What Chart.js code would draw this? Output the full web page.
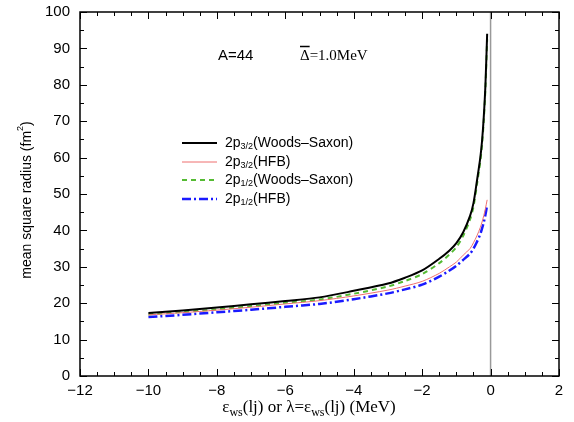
<!DOCTYPE html>
<html>
<head>
<meta charset="utf-8">
<script src="https://cdn.jsdelivr.net/npm/chart.js@4.4.0/dist/chart.umd.min.js"></script>
<style>
  html, body { margin: 0; padding: 0; background: #fff; }
  #wrap { width: 574px; height: 422px; }
</style>
</head>
<body>
<div id="wrap"><canvas id="radiusChart" width="574" height="422"></canvas></div>
<script>
// single-particle energy (MeV)
var energies = [-10, -9, -8, -7, -6, -5, -4, -3, -2.5, -2, -1.5, -1.2, -1, -0.8, -0.6, -0.5, -0.4, -0.3, -0.25, -0.2, -0.15, -0.1];

// mean square radius (fm^2)
var p32WoodsSaxon = [17.3, 18.0, 18.8, 19.7, 20.6, 21.6, 23.4, 25.4, 27.0, 29.0, 32.2, 34.5, 36.5, 39.5, 44.0, 47.5, 53.5, 60.0, 64.5, 71.0, 80.0, 94.0];
var p32HFB = [16.8, 17.4, 18.1, 18.9, 19.8, 20.7, 22.0, 23.6, 24.7, 26.0, 28.2, 30.0, 31.3, 33.2, 35.0, 36.6, 38.5, 40.8, 42.3, 44.0, 46.0, 48.4];
var p12WoodsSaxon = [16.9, 17.6, 18.3, 19.2, 20.1, 21.0, 22.6, 24.6, 26.1, 28.0, 31.0, 33.4, 35.4, 38.5, 43.0, 46.5, 52.5, 59.0, 63.5, 70.0, 79.0, 92.5];
var p12HFB = [16.2, 16.8, 17.5, 18.2, 19.0, 19.8, 21.1, 22.7, 23.8, 25.1, 27.3, 29.0, 30.3, 31.9, 33.6, 35.0, 36.8, 39.0, 40.5, 42.2, 44.3, 47.0];

var legendLabels = [
    ['2p', '3/2', '(Woods\u2013Saxon)'],
    ['2p', '3/2', '(HFB)'],
    ['2p', '1/2', '(Woods\u2013Saxon)'],
    ['2p', '1/2', '(HFB)']
];

function pts(ys) {
    return energies.map(function (e, i) { return { x: e, y: ys[i] }; });
}

var sans = 'Liberation Sans, Arial, Helvetica, sans-serif';
var serif = 'Liberation Serif, Times New Roman, serif';

var series = [
    { data: p32WoodsSaxon, color: '#000000', width: 2, dash: [] },
    { data: p32HFB, color: '#ee6f6f', width: 1, dash: [] },
    { data: p12WoodsSaxon, color: '#55bb33', width: 2, dash: [5, 4] },
    { data: p12HFB, color: '#1a1aff', width: 2.5, dash: [9, 3, 2, 3] }
];

// frame, inward ticks, the zero line and the text labels
var decorPlugin = {
    id: 'decor',
    beforeDatasetsDraw: function (chart) {
        var c = chart.ctx, a = chart.chartArea, xs = chart.scales.x;
        var x0 = xs.getPixelForValue(0);
        c.save();
        c.strokeStyle = '#999999';
        c.lineWidth = 1.5;
        c.beginPath();
        c.moveTo(x0, a.top);
        c.lineTo(x0, a.bottom);
        c.stroke();
        c.restore();
    },
    afterDraw: function (chart) {
        var c = chart.ctx, a = chart.chartArea;
        var xs = chart.scales.x, ys = chart.scales.y;
        c.save();
        c.strokeStyle = '#000';
        c.lineWidth = 1.5;
        c.strokeRect(a.left, a.top, a.right - a.left, a.bottom - a.top);

        c.lineWidth = 1;
        c.beginPath();
        for (var v = -12; v <= 2.001; v += 0.5) {
            var px = Math.round(xs.getPixelForValue(v)) + 0.5;
            var len = (Math.abs(v % 2) < 0.01) ? 7 : 4;
            c.moveTo(px, a.bottom); c.lineTo(px, a.bottom - len);
            c.moveTo(px, a.top); c.lineTo(px, a.top + len);
        }
        for (var w = 0; w <= 100; w += 5) {
            var py = Math.round(ys.getPixelForValue(w)) + 0.5;
            var l2 = (w % 10 === 0) ? 7 : 4;
            c.moveTo(a.left, py); c.lineTo(a.left + l2, py);
            c.moveTo(a.right, py); c.lineTo(a.right - l2, py);
        }
        c.stroke();

        // y axis title
        c.fillStyle = '#000';
        c.save();
        c.translate(27, (a.top + a.bottom) / 2 + 6);
        c.rotate(-Math.PI / 2);
        c.textBaseline = 'middle';
        var t1 = 'mean square radius (fm';
        var t2 = ')';
        c.font = '14px ' + sans;
        var w1 = c.measureText(t1).width;
        c.font = '9px ' + sans;
        var ws = c.measureText('2').width;
        c.font = '14px ' + sans;
        var w2 = c.measureText(t2).width;
        var sx = -(w1 + ws + w2) / 2;
        c.fillText(t1, sx, 0);
        c.font = '9px ' + sans;
        c.fillText('2', sx + w1, -6);
        c.font = '14px ' + sans;
        c.fillText(t2, sx + w1 + ws, 0);
        c.restore();

        // x axis title
        var parts = [
            ['\u03b5', 17, 0], ['ws', 12, 4], ['(lj) or \u03bb=\u03b5', 17, 0], ['ws', 12, 4], ['(lj) (MeV)', 17, 0]
        ];
        var total = 0;
        parts.forEach(function (p) { c.font = p[1] + 'px ' + serif; total += c.measureText(p[0]).width; });
        var cx = 309 - total / 2;
        c.textBaseline = 'alphabetic';
        parts.forEach(function (p) {
            c.font = p[1] + 'px ' + serif;
            c.fillText(p[0], cx, 412 + p[2]);
            cx += c.measureText(p[0]).width;
        });

        // annotations
        c.font = '15px ' + sans;
        c.fillText('A=44', 218, 60);
        c.font = '15px ' + serif;
        var dx = 300;
        c.fillText('\u0394=1.0MeV', dx, 60);
        var dw = c.measureText('\u0394').width;
        c.lineWidth = 1.5;
        c.beginPath();
        c.moveTo(dx, 46.5); c.lineTo(dx + dw, 46.5);
        c.stroke();

        // legend
        var rowY = [143, 162, 180, 199];
        legendLabels.forEach(function (lab, i) {
            var s = series[i];
            c.save();
            c.strokeStyle = s.color;
            c.lineWidth = s.width;
            c.setLineDash(s.dash);
            c.beginPath();
            c.moveTo(182, rowY[i]); c.lineTo(217, rowY[i]);
            c.stroke();
            c.restore();
            var tx = 225;
            c.textBaseline = 'middle';
            c.font = '14px ' + sans;
            c.fillText(lab[0], tx, rowY[i]);
            tx += c.measureText(lab[0]).width;
            c.font = '9px ' + sans;
            c.fillText(lab[1], tx, rowY[i] + 4);
            tx += c.measureText(lab[1]).width;
            c.font = '14px ' + sans;
            c.fillText(lab[2], tx, rowY[i]);
        });
        c.restore();
    }
};

function minus(v) { return String(v).replace('-', '\u2212'); }

var ctx = document.getElementById('radiusChart').getContext('2d');
var radiusChart = new Chart(ctx, {
    type: 'scatter',
    data: {
        datasets: series.map(function (s) {
            return {
                data: pts(s.data),
                showLine: true,
                borderColor: s.color,
                borderWidth: s.width,
                borderDash: s.dash,
                pointRadius: 0,
                tension: 0.3,
                fill: false
            };
        })
    },
    options: {
        responsive: false,
        animation: false,
        devicePixelRatio: 1,
        layout: { padding: { top: 12, right: 15, left: 0, bottom: 0 } },
        plugins: {
            legend: { display: false },
            tooltip: { enabled: false }
        },
        scales: {
            x: {
                type: 'linear',
                min: -12,
                max: 2,
                ticks: { stepSize: 2, color: '#000', font: { size: 15, family: sans }, padding: -2, callback: minus, maxRotation: 0 },
                grid: { display: false },
                border: { display: false },
                afterFit: function (scale) { scale.height = 46; }
            },
            y: {
                min: 0,
                max: 100,
                ticks: { stepSize: 10, color: '#000', font: { size: 15, family: sans }, padding: 2 },
                grid: { display: false },
                border: { display: false },
                afterFit: function (scale) { scale.width = 80; }
            }
        }
    },
    plugins: [decorPlugin]
});
</script>
</body>
</html>
